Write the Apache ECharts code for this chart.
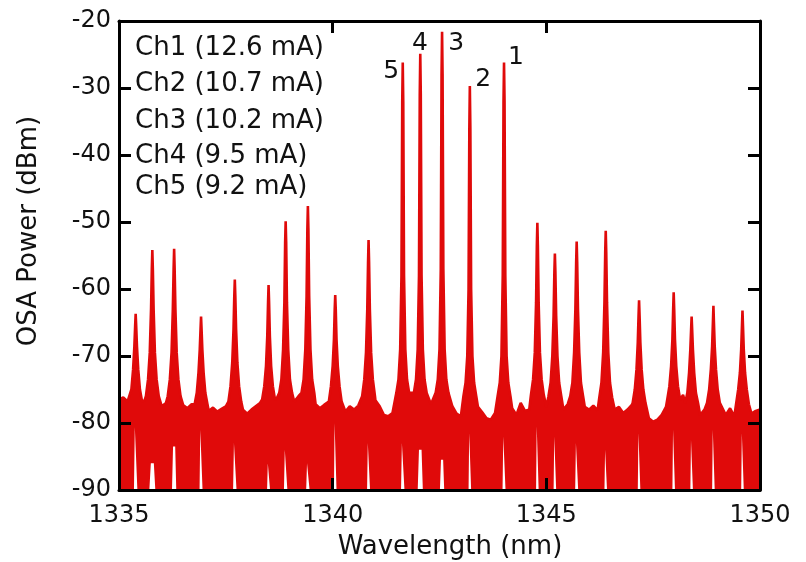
<!DOCTYPE html>
<html>
<head>
<meta charset="utf-8">
<script src="https://cdn.jsdelivr.net/npm/echarts@6/dist/echarts.min.js"></script>
<style>html,body{margin:0;padding:0;background:#fff}#c{width:806px;height:562px}</style>
</head>
<body>
<div id="c"></div>
<script>
// ---- data ----
const xTicks = [1335, 1340, 1345, 1350];
const yTicks = [-90, -80, -70, -60, -50, -40, -30, -20];

// laser / side-mode peaks (wavelength nm, peak power dBm)
const peakNm = [1335.39, 1335.78, 1336.29, 1336.92, 1337.71, 1338.50, 1338.90, 1339.42, 1340.06, 1340.84,
                1341.64, 1342.05, 1342.56, 1343.21, 1344.01,
                1344.79, 1345.20, 1345.71, 1346.39, 1347.17, 1347.98, 1348.40, 1348.91, 1349.59];
const peakDb = [-63.7, -54.2, -54.0, -64.1, -58.6, -59.4, -49.9, -47.6, -60.9, -52.7,
                -26.2, -24.9, -21.6, -29.7, -26.2,
                -50.1, -54.7, -52.9, -51.3, -61.7, -60.5, -64.1, -62.5, -63.2];
// skirt levels at +-0.012, +-0.03, +-0.06, +-0.10, +-0.15 nm from each peak
const skirtOffsets = [0.012, 0.03, 0.06, 0.10, 0.15];
const peakSkirt = [
  [-65.5,-68.5,-72,-75,-76.8], [-57,-63,-69.5,-73.5,-76], [-57,-63,-69.5,-73.5,-76], [-66,-69,-72.5,-75.5,-77.2],
  [-61,-66,-71,-74.5,-76.8], [-62,-67,-71.5,-74.5,-76.5], [-53,-62,-69,-73.5,-75.5], [-51,-61,-69,-73.5,-75.5],
  [-63,-67.5,-71.5,-74.5,-76.8], [-56,-63,-69.5,-73.5,-76],
  [-32,-58,-69,-73.5,-75.5], [-31,-58,-69,-73.5,-75.5], [-28,-57,-69,-73.5,-75.5], [-36,-60,-70,-74,-76], [-32,-58,-70,-74,-76],
  [-53.5,-62,-69.5,-73.5,-75.8], [-57.5,-64,-70,-74,-76], [-56,-63,-69.5,-74,-76], [-54.5,-62,-69.5,-74,-76.2],
  [-64,-68,-72,-75,-77], [-63,-67.5,-71.5,-74.5,-76.5], [-66,-69,-72.5,-75.5,-77], [-65,-68.5,-72,-75,-77], [-65.5,-69,-72.5,-75,-77.2]
];
// lower edge of the noise band next to each peak (white gaps)
const gapDb = [-80.6, -86, -83.5, -81, -83, -86, -84, -86, -80, -83,
               -83, -84, -85.5, -81.5, -82,
               -80.5, -82, -83, -84, -81.5, -81, -82.5, -81, -81.5];
const gapHalfNm = [0.04, 0.07, 0.05, 0.035, 0.04, 0.035, 0.04, 0.04, 0.03, 0.035,
                   0.04, 0.06, 0.05, 0.03, 0.035,
                   0.03, 0.03, 0.035, 0.03, 0.03, 0.03, 0.03, 0.03, 0.03];

// noise floor top, every 0.1 nm from 1335.0 to 1350.0
const floorStart = 1335.0, floorStep = 0.1;
const floorDb = [
  -76.5,-76.2,-76.8,-77.0,-76.5,-77.2,-76.6,-76.0,-76.0,-76.5,  // 1335.0-1335.9
  -77.5,-77.0,-76.2,-76.0,-76.4,-77.3,-77.8,-77.2,-78.0,-77.5,  // 1336.0-
  -77.4,-78.2,-77.7,-78.3,-77.9,-77.5,-77.0,-76.8,-77.0,-78.0,  // 1337.0-
  -78.6,-78.0,-77.5,-77.0,-76.4,-76.2,-76.8,-76.2,-75.8,-75.8,  // 1338.0-
  -75.6,-76.8,-76.0,-75.5,-75.5,-76.0,-77.2,-77.8,-77.3,-75.6,  // 1339.0-
  -77.0,-77.0,-77.8,-78.3,-77.5,-78.0,-77.4,-76.8,-76.0,-76.0,  // 1340.0-
  -76.6,-77.5,-78.8,-79.0,-78.5,-77.0,-76.0,-76.0,-76.0,-76.4,  // 1341.0-
  -76.0,-76.0,-76.5,-77.2,-76.8,-76.0,-76.0,-76.6,-77.5,-78.6,  // 1342.0-
  -79.0,-77.8,-77.0,-76.8,-77.6,-78.4,-79.3,-79.5,-78.5,-77.3,  // 1343.0-
  -77.0,-76.8,-77.8,-78.8,-77.0,-78.2,-78.0,-77.3,-77.0,-76.8,  // 1344.0-
  -77.6,-76.4,-77.0,-77.0,-78.0,-77.2,-77.0,-77.0,-76.8,-77.6,  // 1345.0-
  -78.0,-77.4,-78.1,-77.5,-77.5,-77.2,-78.0,-77.6,-78.5,-78.0,  // 1346.0-
  -77.3,-78.2,-78.0,-77.5,-79.3,-79.8,-79.5,-78.8,-77.6,-77.0,  // 1347.0-
  -77.0,-76.6,-75.8,-77.0,-77.0,-77.6,-78.8,-78.0,-77.5,-77.5,  // 1348.0-
  -78.6,-77.2,-78.8,-77.8,-79.0,-78.3,-78.0,-77.7,-78.6,-78.2,  // 1349.0-
  -78.0                                                         // 1350.0
];

// channel legend and peak labels
const legendLines = ['Ch1 (12.6 mA)', 'Ch2 (10.7 mA)', 'Ch3 (10.2 mA)', 'Ch4 (9.5 mA)', 'Ch5 (9.2 mA)'];
const labelText = ['5', '4', '3', '2', '1'];
const labelNm = [1341.37, 1342.04, 1342.89, 1343.52, 1344.29];
const labelDb = [-27.6, -23.4, -23.4, -28.7, -25.5];

// ---- build series data ----
const RED = '#e00a0a';
const upper = [];
floorDb.forEach((v, i) => {
  const nm = +(floorStart + i * floorStep).toFixed(2);
  if (peakNm.every(p => Math.abs(nm - p) >= 0.16)) upper.push([nm, v]);
});
peakNm.forEach((p, i) => {
  const s = peakSkirt[i];
  for (let k = skirtOffsets.length - 1; k >= 0; k--) upper.push([p - skirtOffsets[k], s[k]]);
  upper.push([p, peakDb[i]]);
  for (let k = 0; k < skirtOffsets.length; k++) upper.push([p + skirtOffsets[k], s[k]]);
});
upper.sort((a, b) => a[0] - b[0]);

const lower = [[1335, -90]];
peakNm.forEach((p, i) => {
  const w = gapHalfNm[i];
  lower.push([p - w, -90], [p - w * 0.5, gapDb[i]], [p + w * 0.5, gapDb[i]], [p + w, -90]);
});
lower.push([1350, -90]);

const labels = labelNm.map((x, i) => [x, labelDb[i]]);

const FONT = '"DejaVu Sans", sans-serif';
const chart = echarts.init(document.getElementById('c'), null, { renderer: 'canvas' });
const axisCommon = {
  axisLine: { show: true, onZero: false, lineStyle: { color: '#000', width: 3 } },
  axisTick: { show: true, inside: true, length: 12, lineStyle: { color: '#000', width: 3 } },
  splitLine: { show: false },
  z: 10
};
chart.setOption({
  animation: false,
  backgroundColor: '#fff',
  grid: { left: 119, right: 46, top: 21, bottom: 72, containLabel: false },
  xAxis: [
    Object.assign({}, axisCommon, {
      type: 'value', min: xTicks[0], max: xTicks[xTicks.length - 1], interval: 5, position: 'bottom',
      axisLabel: { show: true, margin: 14, color: '#111', fontSize: 24, fontFamily: FONT,
                   formatter: v => String(v) }
    }),
    Object.assign({}, axisCommon, {
      type: 'value', min: xTicks[0], max: xTicks[xTicks.length - 1], interval: 5, position: 'top',
      axisLabel: { show: false }
    })
  ],
  yAxis: [
    Object.assign({}, axisCommon, {
      type: 'value', min: yTicks[0], max: yTicks[yTicks.length - 1], interval: 10, position: 'left',
      axisLabel: { show: true, margin: 8, color: '#111', fontSize: 24, fontFamily: FONT,
                   formatter: v => String(v) }
    }),
    Object.assign({}, axisCommon, {
      type: 'value', min: yTicks[0], max: yTicks[yTicks.length - 1], interval: 10, position: 'right',
      axisLabel: { show: false }
    })
  ],
  series: [
    {
      type: 'line', data: upper, symbol: 'none', z: 2,
      lineStyle: { color: RED, width: 2.6 },
      areaStyle: { color: RED, opacity: 1, origin: 'start' },
      silent: true
    },
    {
      type: 'line', data: lower, symbol: 'none', z: 3,
      lineStyle: { width: 0, color: '#fff' },
      areaStyle: { color: '#fff', opacity: 1, origin: 'start' },
      silent: true
    },
    {
      type: 'scatter', data: labels, symbolSize: 0, z: 5,
      itemStyle: { color: '#111', opacity: 1 },
      label: { show: true, position: 'inside', color: '#111', opacity: 1, textBorderWidth: 0, fontSize: 25, fontFamily: FONT,
               formatter: p => labelText[p.dataIndex] },
      silent: true
    }
  ],
  graphic: [
    ...legendLines.map((t, i) => ({
      type: 'text', x: 135, y: [48, 84, 121, 156, 187][i], z: 20,
      style: { text: t, fill: '#111', font: '26px ' + FONT, align: 'left', verticalAlign: 'middle' }
    })),
    { type: 'text', x: 450, y: 547, z: 20,
      style: { text: 'Wavelength (nm)', fill: '#111', font: '26px ' + FONT, align: 'center', verticalAlign: 'middle' } },
    { type: 'text', x: 29, y: 231, rotation: Math.PI / 2, z: 20,
      style: { text: 'OSA Power (dBm)', fill: '#111', font: '26px ' + FONT, align: 'center', verticalAlign: 'middle' } }
  ]
});
</script>
</body>
</html>
